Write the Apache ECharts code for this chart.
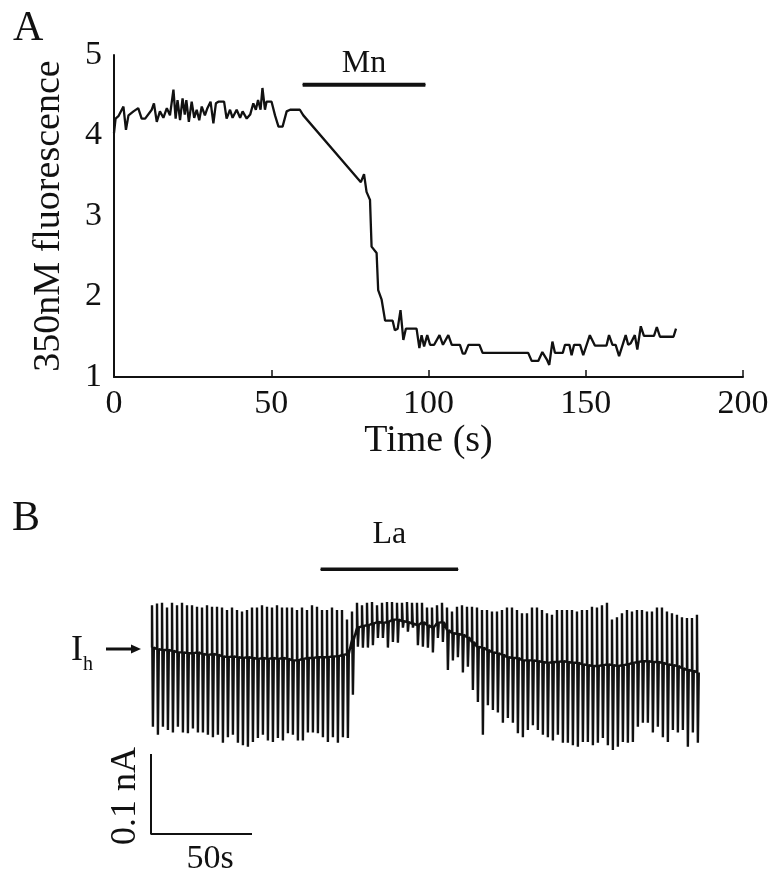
<!DOCTYPE html>
<html>
<head>
<meta charset="utf-8">
<script src="https://cdn.jsdelivr.net/npm/echarts@6/dist/echarts.min.js"></script>
<style>
  html, body { margin: 0; padding: 0; background: #fff; }
  #chart { width: 782px; height: 883px; }
</style>
</head>
<body>
<div id="chart"></div>
<script>
// Panel A: 350nM fluorescence against time (s)
var timeA = [0, 0.5, 1.4, 3.0, 3.8, 4.6, 6.2, 7.7, 8.8, 9.9, 12, 12.7, 13.6, 14.6, 15.7, 16.8, 17.8, 18.9, 19.6, 20.2,
  21, 21.8, 22.5, 23, 23.8, 24.7, 25.5, 26.3, 27.1, 27.9, 28.9, 29.7, 30.7, 31.6, 32.4, 33.2, 35, 35.8, 36.9, 37.7,
  39, 40.1, 40.9, 42.2, 43.3, 44.3, 45.1, 45.8, 46.6, 47.2, 48, 48.5, 50.1, 51.2, 52.3, 53.6, 54.9, 56, 59.1, 60.2,
  78.5, 79.5, 80.3, 81.4, 81.9, 83.5, 84, 85.1, 86.2, 88.6, 89.3, 90.2, 91.1, 92, 92.8, 96.2, 97.1, 97.8, 98.6, 99.6,
  100.5, 101.8, 103.5, 104.6, 106.3, 107.4, 110, 110.9, 111.6, 112.7, 116.2, 117.2, 131.7, 132.8, 134.9, 136.2, 137.6, 138.4, 139.4, 140.2,
  142.7, 143.4, 144.8, 145.5, 146.3, 148.2, 149.2, 151.3, 152.9, 156.6, 157.4, 158.5, 159.5, 160.6, 162.7, 163.5, 164.3, 165.6, 166.4, 167.5,
  168.5, 171.7, 172.6, 173.6, 177.9, 178.7];
var fluoA = [4.03, 4.21, 4.24, 4.36, 4.07, 4.25, 4.3, 4.34, 4.21, 4.21, 4.32, 4.4, 4.17, 4.3, 4.22, 4.34, 4.25, 4.57, 4.21, 4.44,
  4.19, 4.46, 4.26, 4.44, 4.17, 4.42, 4.22, 4.32, 4.19, 4.36, 4.25, 4.34, 4.42, 4.15, 4.4, 4.42, 4.42, 4.21, 4.32, 4.22,
  4.32, 4.22, 4.3, 4.21, 4.26, 4.4, 4.32, 4.44, 4.32, 4.59, 4.32, 4.42, 4.42, 4.25, 4.11, 4.11, 4.3, 4.32, 4.32, 4.25,
  3.42, 3.52, 3.3, 3.2, 2.62, 2.54, 2.08, 1.96, 1.7, 1.7, 1.58, 1.6, 1.83, 1.46, 1.6, 1.6, 1.36, 1.52, 1.38, 1.52,
  1.4, 1.4, 1.52, 1.4, 1.52, 1.4, 1.4, 1.29, 1.29, 1.4, 1.4, 1.3, 1.3, 1.2, 1.2, 1.31, 1.22, 1.15, 1.44, 1.3,
  1.3, 1.4, 1.4, 1.27, 1.4, 1.4, 1.27, 1.52, 1.39, 1.39, 1.52, 1.4, 1.4, 1.26, 1.52, 1.4, 1.42, 1.52, 1.34, 1.63,
  1.51, 1.51, 1.62, 1.5, 1.5, 1.6];
var xTicksA = [0, 50, 100, 150, 200];
var yTicksA = [1, 2, 3, 4, 5];
var mnBar = [60, 99];   // Mn application (s)
var mnLevel = 4.63;

// Panel B: Ih current, one value per sweep (pA, relative)
var sweepPeriod = 2.475; // s between sweeps
var sweepStart = 0.5;
var pulseTop = [56, 58, 59, 53, 59, 56, 59, 56, 56, 54, 53, 56, 54, 54, 53, 50, 53, 50, 48, 50, 53, 53, 56, 54, 53, 56, 53,
  53, 53, 50, 53, 50, 56, 54, 50, 50, 53, 50, 50, 38, 48, 59, 56, 59, 60, 56, 59, 60, 60, 59, 59, 60, 59, 59,
  59, 53, 53, 56, 59, 53, 48, 54, 56, 54, 54, 53, 50, 50, 48, 48, 50, 53, 53, 50, 46, 46, 53, 53, 50, 46, 44,
  50, 50, 50, 50, 48, 50, 50, 54, 53, 56, 59, 38, 41, 46, 50, 48, 50, 50, 48, 48, 53, 53, 48, 46, 44, 41, 40, 40, 44];
var pulseBottom = [-96, -106, -96, -100, -103, -96, -103, -104, -98, -103, -103, -106, -109, -106, -116, -109, -106, -116, -119, -121, -115, -110, -106, -113, -115, -110, -113,
  -104, -106, -113, -113, -103, -103, -104, -109, -115, -109, -116, -109, -110, -56, 4, 3, 3, 6, 15, 15, 3, 10, 9, 28, 23, 28, 6,
  4, 3, -3, 15, 10, -25, -13, -9, -28, -21, -50, -65, -106, -69, -75, -78, -91, -85, -91, -104, -109, -100, -94, -100, -106, -109, -113,
  -106, -116, -116, -119, -121, -115, -115, -119, -116, -110, -119, -125, -121, -115, -116, -115, -96, -91, -91, -103, -96, -109, -115, -100, -103, -100, -121, -103, -116];
var holdLevel = [3, 1, 0, 0, -1, -3, -3, -4, -4, -3, -5, -6, -5, -6, -8, -9, -8, -9, -10, -9, -10, -11, -10, -11, -10, -11, -10,
  -11, -13, -13, -11, -10, -10, -9, -9, -9, -8, -8, -6, -5, 13, 28, 30, 31, 33, 35, 34, 35, 38, 38, 36, 35, 33, 31,
  35, 31, 28, 34, 35, 25, 21, 20, 19, 16, 10, 4, 3, 0, -3, -4, -6, -9, -10, -10, -13, -13, -13, -14, -15, -16, -15,
  -15, -14, -15, -16, -16, -18, -19, -20, -20, -19, -18, -19, -20, -19, -18, -16, -15, -14, -14, -15, -15, -16, -18, -19, -20, -23, -25, -26, -28];
var laBar = [84, 152];   // La application (s)
var laLevel = 101;
var scaleBarT = 50;      // s
var scaleBarI = 100;     // pA (0.1 nA)
var scaleBarBase = -230;

var FONT = '"Liberation Serif", "DejaVu Serif", serif';
var INK = '#111';

var lineA = timeA.map(function (t, i) { return [t, fluoA[i]]; });

var traceB = [];
for (var i = 0; i < pulseTop.length; i++) {
  var t = sweepStart + i * sweepPeriod;
  traceB.push([t, holdLevel[i]], [t, pulseTop[i]], [t + 0.45, pulseBottom[i]], [t + 0.9, holdLevel[i]]);
}

// a bar with its label over the middle point
function barSeries(xi, yi, range, level, text, gap, width) {
  return {
    type: 'line', xAxisIndex: xi, yAxisIndex: yi, symbol: 'circle', symbolSize: 1, showSymbol: true,
    itemStyle: { color: INK },
    data: [[range[0], level],
      { value: [(range[0] + range[1]) / 2, level],
        label: { show: true, position: 'top', distance: gap, formatter: text, fontSize: 32, color: INK, fontFamily: FONT } },
      [range[1], level]],
    lineStyle: { color: INK, width: width }
  };
}

var myChart = echarts.init(document.getElementById('chart'));
var option = {
  animation: false,
  backgroundColor: '#fff',
  textStyle: { fontFamily: FONT, color: INK },
  grid: [
    { left: 114, top: 55, width: 629, height: 322 },
    { left: 151, top: 530, width: 606, height: 320 }
  ],
  xAxis: [
    {
      gridIndex: 0, type: 'value', min: xTicksA[0], max: xTicksA[xTicksA.length - 1], interval: 50,
      axisLine: { onZero: false, lineStyle: { color: INK, width: 2 } },
      axisTick: { inside: true, length: 7, lineStyle: { color: INK, width: 1.5 } },
      axisLabel: { fontSize: 34, margin: 10, color: INK, fontFamily: FONT },
      splitLine: { show: false },
      name: 'Time (s)', nameLocation: 'middle', nameGap: 42,
      nameTextStyle: { fontSize: 38, color: INK, fontFamily: FONT }
    },
    { gridIndex: 1, type: 'value', min: 0, max: 300, show: false }
  ],
  yAxis: [
    {
      gridIndex: 0, type: 'value', min: yTicksA[0], max: yTicksA[yTicksA.length - 1], interval: 1,
      axisLine: { show: true, onZero: false, lineStyle: { color: INK, width: 2 } },
      axisTick: { show: false },
      axisLabel: { fontSize: 34, margin: 12, color: INK, fontFamily: FONT },
      splitLine: { show: false },
      name: '350nM fluorescence', nameLocation: 'middle', nameGap: 46, nameRotate: 90,
      nameTextStyle: { fontSize: 38, color: INK, fontFamily: FONT }
    },
    { gridIndex: 1, type: 'value', min: -250, max: 150, show: false }
  ],
  series: [
    {
      type: 'line', xAxisIndex: 0, yAxisIndex: 0, data: lineA, showSymbol: false,
      lineStyle: { color: INK, width: 2.3 }
    },
    barSeries(0, 0, mnBar, mnLevel, 'Mn', 5, 4),
    {
      type: 'line', xAxisIndex: 1, yAxisIndex: 1, data: traceB, showSymbol: false,
      lineStyle: { color: INK, width: 2.4 }
    },
    barSeries(1, 1, laBar, laLevel, 'La', 18, 3.5),
    {
      type: 'line', xAxisIndex: 1, yAxisIndex: 1, showSymbol: false,
      data: [[0, scaleBarBase + scaleBarI], [0, scaleBarBase], [scaleBarT, scaleBarBase]],
      lineStyle: { color: INK, width: 2 }
    }
  ],
  graphic: [
    { type: 'text', x: 13, y: 29, style: { text: 'A', font: '42px ' + FONT, fill: INK, verticalAlign: 'middle' } },
    { type: 'text', x: 12, y: 519, style: { text: 'B', font: '42px ' + FONT, fill: INK, verticalAlign: 'middle' } },
    { type: 'text', x: 71, y: 651, style: { text: 'I', font: '36px ' + FONT, fill: INK, verticalAlign: 'middle' } },
    { type: 'text', x: 83, y: 665, style: { text: 'h', font: '20px ' + FONT, fill: INK, verticalAlign: 'middle' } },
    { type: 'line', shape: { x1: 106, y1: 649, x2: 133, y2: 649 }, style: { stroke: INK, lineWidth: 3 } },
    { type: 'polygon', shape: { points: [[131, 644.5], [141, 649], [131, 653.5]] }, style: { fill: INK } },
    { type: 'text', x: 210, y: 859, style: { text: '50s', font: '34px ' + FONT, fill: INK, align: 'center', verticalAlign: 'middle' } },
    { type: 'text', x: 126, y: 796, rotation: Math.PI / 2, style: { text: '0.1 nA', font: '36px ' + FONT, fill: INK, align: 'center', verticalAlign: 'middle' } }
  ]
};
myChart.setOption(option);
</script>
</body>
</html>
